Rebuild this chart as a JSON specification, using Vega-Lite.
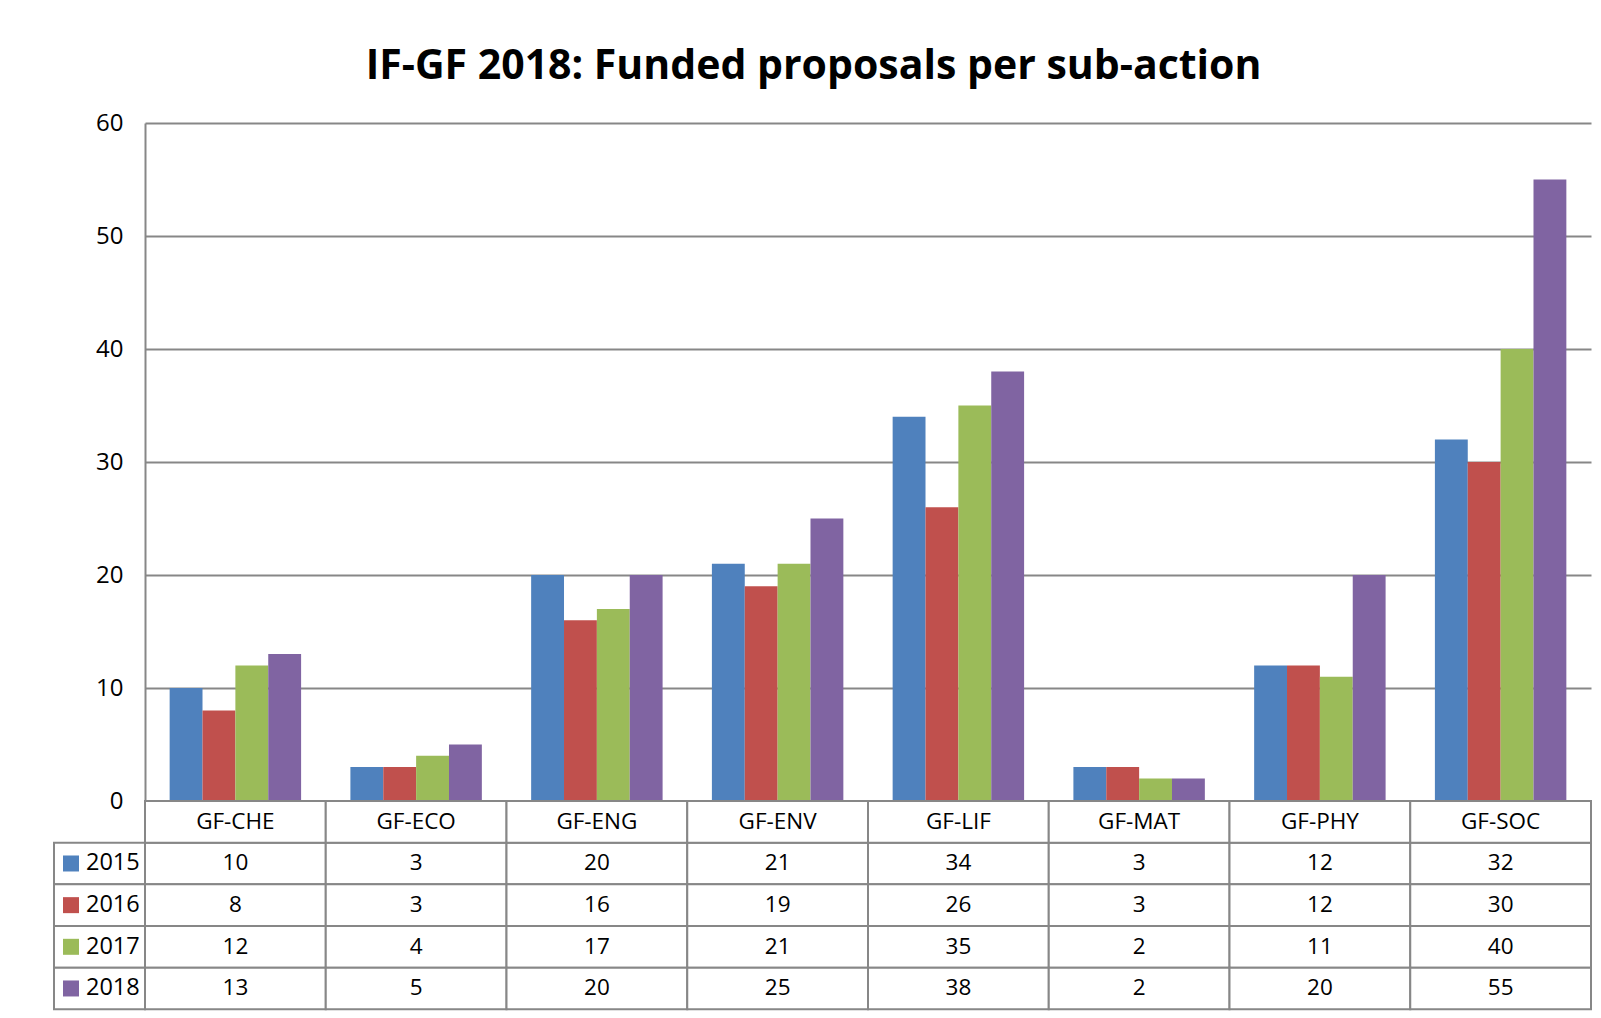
{
  "$schema": "https://vega.github.io/schema/vega-lite/v6.json",
  "background": "white",
  "padding": {"left": 53, "top": 45, "right": 0, "bottom": 0},
  "title": {"text": "IF-GF 2018: Funded proposals per sub-action", "font": "Open Sans", "fontSize": 41, "fontWeight": "bold", "color": "#000000", "anchor": "middle", "frame": "bounds", "baseline": "alphabetic", "offset": -8.5, "dx": -9},
  "datasets": {
    "funded": [
      {"cat": "GF-CHE", "year": "2015", "value": 10},
      {"cat": "GF-ECO", "year": "2015", "value": 3},
      {"cat": "GF-ENG", "year": "2015", "value": 20},
      {"cat": "GF-ENV", "year": "2015", "value": 21},
      {"cat": "GF-LIF", "year": "2015", "value": 34},
      {"cat": "GF-MAT", "year": "2015", "value": 3},
      {"cat": "GF-PHY", "year": "2015", "value": 12},
      {"cat": "GF-SOC", "year": "2015", "value": 32},
      {"cat": "GF-CHE", "year": "2016", "value": 8},
      {"cat": "GF-ECO", "year": "2016", "value": 3},
      {"cat": "GF-ENG", "year": "2016", "value": 16},
      {"cat": "GF-ENV", "year": "2016", "value": 19},
      {"cat": "GF-LIF", "year": "2016", "value": 26},
      {"cat": "GF-MAT", "year": "2016", "value": 3},
      {"cat": "GF-PHY", "year": "2016", "value": 12},
      {"cat": "GF-SOC", "year": "2016", "value": 30},
      {"cat": "GF-CHE", "year": "2017", "value": 12},
      {"cat": "GF-ECO", "year": "2017", "value": 4},
      {"cat": "GF-ENG", "year": "2017", "value": 17},
      {"cat": "GF-ENV", "year": "2017", "value": 21},
      {"cat": "GF-LIF", "year": "2017", "value": 35},
      {"cat": "GF-MAT", "year": "2017", "value": 2},
      {"cat": "GF-PHY", "year": "2017", "value": 11},
      {"cat": "GF-SOC", "year": "2017", "value": 40},
      {"cat": "GF-CHE", "year": "2018", "value": 13},
      {"cat": "GF-ECO", "year": "2018", "value": 5},
      {"cat": "GF-ENG", "year": "2018", "value": 20},
      {"cat": "GF-ENV", "year": "2018", "value": 25},
      {"cat": "GF-LIF", "year": "2018", "value": 38},
      {"cat": "GF-MAT", "year": "2018", "value": 2},
      {"cat": "GF-PHY", "year": "2018", "value": 20},
      {"cat": "GF-SOC", "year": "2018", "value": 55}
    ],
    "cats": [
      {"cat": "GF-CHE"}, {"cat": "GF-ECO"}, {"cat": "GF-ENG"}, {"cat": "GF-ENV"},
      {"cat": "GF-LIF"}, {"cat": "GF-MAT"}, {"cat": "GF-PHY"}, {"cat": "GF-SOC"}
    ],
    "years": [
      {"year": "2015"}, {"year": "2016"}, {"year": "2017"}, {"year": "2018"}
    ]
  },
  "columns": 2,
  "spacing": 0,
  "bounds": "flush",
  "concat": [
    {
      "width": 91,
      "height": 678,
      "data": {"values": [{}]},
      "mark": {"type": "point", "opacity": 0},
      "encoding": {}
    },
    {
      "width": 1446,
      "height": 678,
      "data": {"name": "funded"},
      "mark": {"type": "bar"},
      "encoding": {
        "x": {"field": "cat", "type": "nominal", "scale": {"domain": ["GF-CHE", "GF-ECO", "GF-ENG", "GF-ENV", "GF-LIF", "GF-MAT", "GF-PHY", "GF-SOC"], "paddingInner": 0, "paddingOuter": 0}, "axis": null},
        "xOffset": {"field": "year", "type": "nominal", "scale": {"domain": ["2015", "2016", "2017", "2018"], "paddingInner": 0, "paddingOuter": 0.75}},
        "y": {"field": "value", "type": "quantitative", "scale": {"domain": [0, 60], "nice": false},
          "axis": {"title": null, "values": [0, 10, 20, 30, 40, 50, 60], "grid": true, "gridColor": "#878787", "gridWidth": 2, "ticks": false, "domainColor": "#878787", "domainWidth": 2, "labelFont": "Open Sans", "labelFontSize": 24, "labelColor": "#000000", "labelPadding": 22}},
        "color": {"field": "year", "type": "nominal", "scale": {"domain": ["2015", "2016", "2017", "2018"], "range": ["#4F81BD", "#C0504D", "#9BBB59", "#8064A2"]}, "legend": null}
      }
    },
    {
      "width": 91,
      "height": 208.3,
      "data": {"name": "years"},
      "layer": [
        {
          "mark": {"type": "rect", "fill": "#ffffff", "stroke": "#878787", "strokeWidth": 2},
          "encoding": {
            "y": {"field": "year", "type": "nominal", "scale": {"domain": ["hdr", "2015", "2016", "2017", "2018"], "paddingInner": 0, "paddingOuter": 0}, "axis": null}
          }
        },
        {
          "mark": {"type": "point", "shape": "square", "filled": true, "size": 256, "opacity": 1},
          "encoding": {
            "x": {"datum": "swatch", "type": "nominal", "scale": {"type": "point", "domain": ["swatch", "label"], "range": [17, 32], "padding": 0}, "axis": null},
            "y": {"field": "year", "type": "nominal"},
            "color": {"field": "year", "type": "nominal", "scale": {"domain": ["2015", "2016", "2017", "2018"], "range": ["#4F81BD", "#C0504D", "#9BBB59", "#8064A2"]}, "legend": null}
          }
        },
        {
          "mark": {"type": "text", "align": "left", "font": "Open Sans", "fontSize": 23.5, "color": "#000000"},
          "encoding": {
            "x": {"datum": "label", "type": "nominal"},
            "y": {"field": "year", "type": "nominal"},
            "text": {"field": "year"}
          }
        }
      ]
    },
    {
      "width": 1446,
      "height": 208.3,
      "layer": [
        {
          "data": {"name": "funded"},
          "mark": {"type": "rect", "fill": "#ffffff", "stroke": "#878787", "strokeWidth": 2},
          "encoding": {
            "x": {"field": "cat", "type": "nominal", "scale": {"domain": ["GF-CHE", "GF-ECO", "GF-ENG", "GF-ENV", "GF-LIF", "GF-MAT", "GF-PHY", "GF-SOC"], "paddingInner": 0, "paddingOuter": 0}, "axis": null},
            "y": {"field": "year", "type": "nominal", "scale": {"domain": ["hdr", "2015", "2016", "2017", "2018"], "paddingInner": 0, "paddingOuter": 0}, "axis": null}
          }
        },
        {
          "data": {"name": "cats"},
          "mark": {"type": "rect", "fill": "#ffffff", "stroke": "#878787", "strokeWidth": 2},
          "encoding": {
            "x": {"field": "cat", "type": "nominal"},
            "y": {"datum": "hdr", "type": "nominal"}
          }
        },
        {
          "data": {"name": "funded"},
          "mark": {"type": "text", "font": "Open Sans", "fontSize": 22.5, "color": "#000000"},
          "encoding": {
            "x": {"field": "cat", "type": "nominal"},
            "y": {"field": "year", "type": "nominal"},
            "text": {"field": "value", "type": "quantitative"}
          }
        },
        {
          "data": {"name": "cats"},
          "mark": {"type": "text", "font": "Open Sans", "fontSize": 22.5, "color": "#000000"},
          "encoding": {
            "x": {"field": "cat", "type": "nominal"},
            "y": {"datum": "hdr", "type": "nominal"},
            "text": {"field": "cat", "type": "nominal"}
          }
        }
      ]
    }
  ],
  "config": {"view": {"stroke": null}, "font": "Open Sans"}
}
